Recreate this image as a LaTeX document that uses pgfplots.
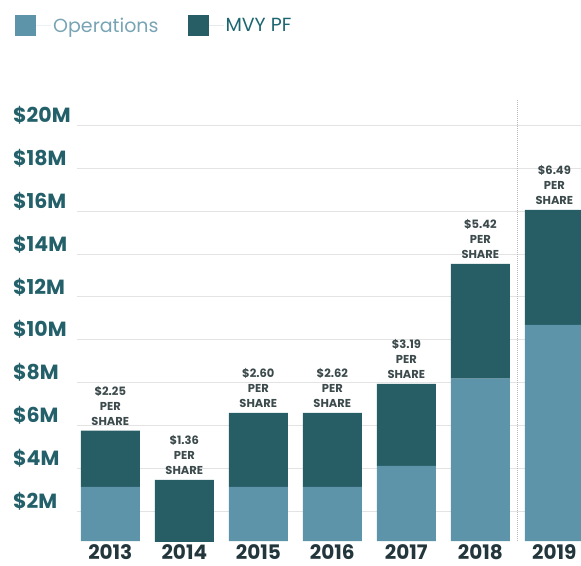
\documentclass[border=0pt]{standalone}
\usepackage{pgfplots}
\pgfplotsset{compat=1.18}
\usepackage{fontspec}
\setmainfont{Poppins}
\definecolor{ops}{HTML}{5E94A9}
\definecolor{mvy}{HTML}{275D65}
\definecolor{opstext}{HTML}{78A4B4}
\definecolor{mvytext}{HTML}{1B6670}
\definecolor{ticktext}{HTML}{24606A}
\definecolor{yeartext}{HTML}{22363C}
\definecolor{sharetext}{HTML}{3C4A4C}

\begin{document}
\begin{tikzpicture}
\begin{axis}[
    scale only axis,
    width=504pt, height=441pt,
    ybar stacked,
    bar width=59pt,
    xmin=-0.45, xmax=6.36,
    ymin=0.6, ymax=21.2,
    xtick={0,...,6},
    xticklabels={2013,2014,2015,2016,2017,2018,2019},
    ytick={2,4,...,20},
    yticklabel={\$\pgfmathprintnumber[assume math mode=true]{\tick}M},
    yticklabel style={anchor=west, xshift=-64pt, yshift=10pt, inner sep=0pt,
        font=\fontsize{20.5}{20}\selectfont\bfseries, text=ticktext},
    xticklabel style={font=\fontsize{20}{20}\selectfont\bfseries, text=yeartext},
    axis line style={draw=none},
    tick style={draw=none},
    ymajorgrids,
    major grid style={gray!22, line width=1pt},
    extra x ticks={5.5},
    extra x tick labels={},
    extra x tick style={xmajorgrids=true, major grid style={densely dotted, gray!55, line width=0.8pt}},
    every node near coord/.append style={anchor=south, yshift=1pt,
        font=\fontsize{11.5}{15}\selectfont\bfseries, text=sharetext, inner sep=0pt},
    legend columns=2,
    legend style={at={(axis description cs:-0.123,1.193)}, anchor=north west,
        draw=none, fill=none, inner sep=0pt,
        font=\fontsize{19}{22}\selectfont,
        /tikz/every even column/.append style={column sep=27pt}},
    legend image code/.code={\fill[#1] (0pt,-10.5pt) rectangle (21pt,10.5pt);
        \path (0pt,0pt) -- (36pt,0pt);},
]
% Operations
\addplot[fill=ops, draw=none] coordinates {
    (0,3.13) (1,0) (2,3.13) (3,3.13) (4,4.11) (5,8.18) (6,10.7)};
% MVY PF
\addplot[fill=mvy, draw=none] coordinates {
    (0,2.62) (1,3.46) (2,3.46) (3,3.46) (4,3.83) (5,5.37) (6,5.37)};
% per-share labels, a hairline layer on top of the stack
\addplot[draw=none, fill=none,
    point meta=explicit symbolic,
    nodes near coords={\begin{tabular}{@{}c@{}}\$\pgfplotspointmeta\\PER\\SHARE\end{tabular}}]
    coordinates {
    (0,0.001) [2.25]
    (1,0.001) [1.36]
    (2,0.001) [2.60]
    (3,0.001) [2.62]
    (4,0.001) [3.19]
    (5,0.001) [5.42]
    (6,0.001) [6.49]};
\legend{\textcolor{opstext}{Operations}, \textcolor{mvytext}{MVY PF}}
\end{axis}
\pgfresetboundingbox
\useasboundingbox ([shift={(-77pt,-24pt)}]current axis.south west)
    rectangle ([shift={(0pt,100pt)}]current axis.north east);
\end{tikzpicture}
\end{document}
